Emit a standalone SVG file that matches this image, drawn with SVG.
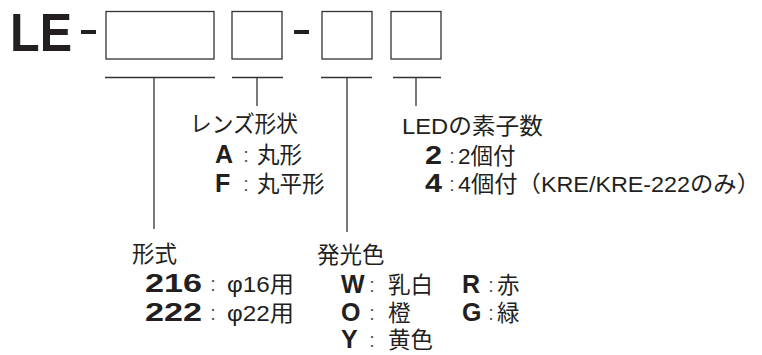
<svg xmlns="http://www.w3.org/2000/svg" width="762" height="355" viewBox="0 0 762 355">
<style>
.bx{fill:none;stroke:#333;stroke-width:1.3}
.ln{fill:none;stroke:#333;stroke-width:1.3}
.j{font-family:"Liberation Sans","Noto Sans CJK JP",sans-serif;font-size:22.5px;fill:#231f20}
.k{font-family:"Liberation Sans",Arial,sans-serif;font-weight:bold;font-size:25px;fill:#231f20}
.c{font-family:"Liberation Sans",Arial,sans-serif;font-size:20px;fill:#555;text-anchor:middle}
</style>
<rect width="762" height="355" fill="#fff"/>
<g id="code">
<text x="10" y="51" font-family="Liberation Sans,Arial,sans-serif" font-weight="bold" font-size="53" fill="#231f20" textLength="62" lengthAdjust="spacingAndGlyphs">LE</text>
<rect x="81" y="30" width="15" height="4" fill="#231f20"/>
<rect class="bx" x="106" y="11.5" width="108" height="47.5"/>
<rect class="bx" x="232" y="11.5" width="50" height="47.5"/>
<rect x="294" y="30" width="15" height="4" fill="#231f20"/>
<rect class="bx" x="322" y="11.5" width="50" height="47.5"/>
<rect class="bx" x="391" y="11.5" width="50" height="47.5"/>
</g>
<g id="connectors">
<path class="ln" d="M105 77.5H215M154 77.5V229"/>
<path class="ln" d="M232 77.5H283M257 77.5V106"/>
<path class="ln" d="M321 77.5H372M347 77.5V232"/>
<path class="ln" d="M393 77.5H441M416 77.5V106"/>
</g>
<g id="lens">
<text class="j" x="190" y="132" textLength="108" lengthAdjust="spacingAndGlyphs">レンズ形状</text>
<text class="k" x="215" y="163">A</text><text class="c" x="246" y="162">:</text><text class="j" x="257" y="163">丸形</text>
<text class="k" x="215" y="192">F</text><text class="c" x="246" y="191">:</text><text class="j" x="257" y="192">丸平形</text>
</g>
<g id="led">
<text class="j" x="402" y="134" textLength="141" lengthAdjust="spacingAndGlyphs">LEDの素子数</text>
<text class="k" x="425" y="164" textLength="17" lengthAdjust="spacingAndGlyphs">2</text><text class="c" x="452" y="163">:</text><text class="j" x="458" y="164">2個付</text>
<text class="k" x="425" y="192" textLength="17" lengthAdjust="spacingAndGlyphs">4</text><text class="c" x="452" y="191">:</text><text class="j" x="458" y="192" textLength="302" lengthAdjust="spacingAndGlyphs">4個付（KRE/KRE-222のみ）</text>
</g>
<g id="type">
<text class="j" x="132" y="262">形式</text>
<text class="k" x="145" y="292" textLength="57" lengthAdjust="spacingAndGlyphs">216</text><text class="c" x="213" y="291">:</text><text class="j" x="227" y="292" textLength="67" lengthAdjust="spacingAndGlyphs">φ16用</text>
<text class="k" x="145" y="321" textLength="57" lengthAdjust="spacingAndGlyphs">222</text><text class="c" x="213" y="320">:</text><text class="j" x="227" y="321" textLength="67" lengthAdjust="spacingAndGlyphs">φ22用</text>
</g>
<g id="color">
<text class="j" x="317" y="263">発光色</text>
<text class="k" x="341" y="293">W</text><text class="c" x="372" y="292">:</text><text class="j" x="388" y="293">乳白</text>
<text class="k" x="462" y="293">R</text><text class="c" x="491" y="292">:</text><text class="j" x="497" y="293">赤</text>
<text class="k" x="341" y="321">O</text><text class="c" x="372" y="320">:</text><text class="j" x="388" y="321">橙</text>
<text class="k" x="462" y="321">G</text><text class="c" x="491" y="320">:</text><text class="j" x="497" y="321">緑</text>
<text class="k" x="341" y="348">Y</text><text class="c" x="372" y="347">:</text><text class="j" x="388" y="348">黄色</text>
</g>
</svg>
